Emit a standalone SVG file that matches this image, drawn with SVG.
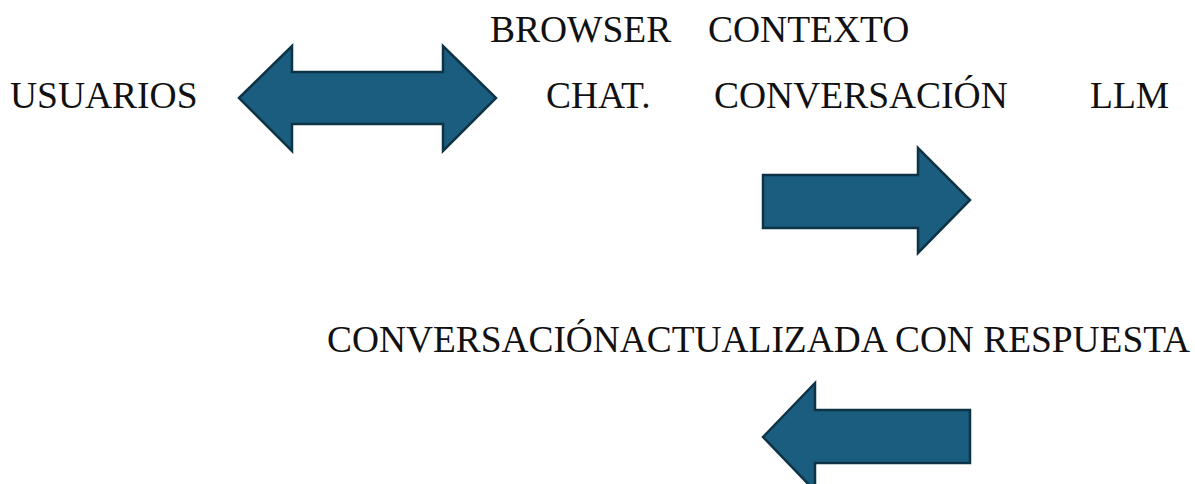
<svg xmlns="http://www.w3.org/2000/svg" width="1195" height="484" viewBox="0 0 1195 484">
<style>
.t{font-family:"Liberation Serif","Times New Roman",serif;font-size:37.5px;fill:#111}
.arr{fill:#1a5d7f;stroke:#0d3346;stroke-width:2.5;stroke-linejoin:miter}
</style>
<rect width="1195" height="484" fill="#fff"/>
<g id="usuarios"><text class="t" x="10" y="108">USUARIOS</text></g>
<g id="browser"><text class="t" x="490" y="42">BROWSER</text></g>
<g id="contexto"><text class="t" x="708" y="42">CONTEXTO</text></g>
<g id="chat"><text class="t" x="546" y="108">CHAT.</text></g>
<g id="conversacion"><text class="t" x="714" y="108">CONVERSACIÓN</text></g>
<g id="llm"><text class="t" x="1090" y="108">LLM</text></g>
<g id="respuesta"><text class="t" x="327" y="352" textLength="863" lengthAdjust="spacingAndGlyphs">CONVERSACIÓNACTUALIZADA CON RESPUESTA</text></g>
<g id="connectors">
<polygon class="arr" points="239,98 292,46 292,72 443,72 443,46 496,98 443,151 443,124 292,124 292,151"/>
<polygon class="arr" points="763,175 918,175 918,148 970,200 918,253 918,228 763,228"/>
<polygon class="arr" points="763,437 815,383 815,410 970,410 970,463 815,463 815,491"/>
</g>
</svg>
